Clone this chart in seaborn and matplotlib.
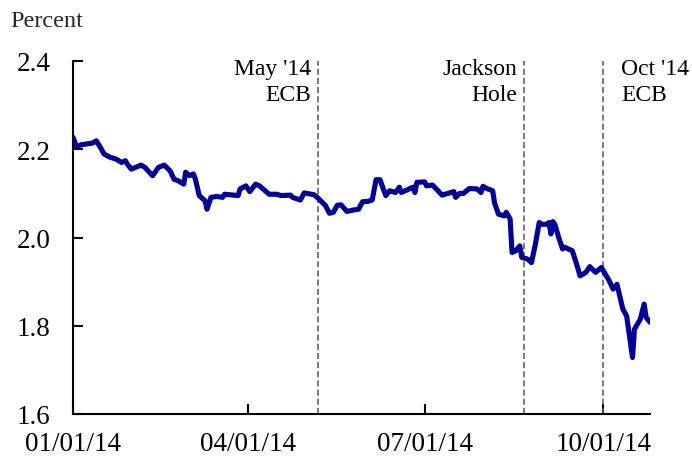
import matplotlib
matplotlib.use("Agg")
import matplotlib.pyplot as plt
import matplotlib.dates as mdates
import seaborn as sns
import pandas as pd

dates = [
    "2014-01-01", "2014-01-03", "2014-01-05", "2014-01-11", "2014-01-13", "2014-01-15",
    "2014-01-17", "2014-01-20", "2014-01-23", "2014-01-26", "2014-01-28", "2014-01-29",
    "2014-01-31", "2014-02-05", "2014-02-07", "2014-02-11", "2014-02-14", "2014-02-17",
    "2014-02-20", "2014-02-22", "2014-02-24", "2014-02-27", "2014-02-28", "2014-03-02",
    "2014-03-04", "2014-03-05", "2014-03-07", "2014-03-10", "2014-03-11", "2014-03-13",
    "2014-03-16", "2014-03-19", "2014-03-20", "2014-03-25", "2014-03-27", "2014-03-28",
    "2014-03-31", "2014-04-02", "2014-04-05", "2014-04-07", "2014-04-12", "2014-04-16",
    "2014-04-18", "2014-04-23", "2014-04-24", "2014-04-28", "2014-04-30", "2014-05-05",
    "2014-05-07", "2014-05-11", "2014-05-13", "2014-05-15", "2014-05-17", "2014-05-19",
    "2014-05-22", "2014-05-25", "2014-05-28", "2014-05-30", "2014-06-02", "2014-06-04",
    "2014-06-06", "2014-06-08", "2014-06-11", "2014-06-13", "2014-06-16", "2014-06-18",
    "2014-06-19", "2014-06-22", "2014-06-25", "2014-06-26", "2014-06-27", "2014-07-01",
    "2014-07-02", "2014-07-05", "2014-07-07", "2014-07-10", "2014-07-13", "2014-07-16",
    "2014-07-17", "2014-07-19", "2014-07-21", "2014-07-24", "2014-07-28", "2014-07-30",
    "2014-07-31", "2014-08-02", "2014-08-05", "2014-08-06", "2014-08-08", "2014-08-11",
    "2014-08-12", "2014-08-14", "2014-08-15", "2014-08-17", "2014-08-19", "2014-08-20",
    "2014-08-23", "2014-08-25", "2014-08-27", "2014-08-29", "2014-08-30", "2014-09-02",
    "2014-09-03", "2014-09-04", "2014-09-05", "2014-09-06", "2014-09-08", "2014-09-10",
    "2014-09-11", "2014-09-15", "2014-09-17", "2014-09-19", "2014-09-22", "2014-09-24",
    "2014-09-27", "2014-09-30", "2014-10-02", "2014-10-04", "2014-10-06", "2014-10-08",
    "2014-10-11", "2014-10-13", "2014-10-16", "2014-10-17", "2014-10-20", "2014-10-22",
    "2014-10-23", "2014-10-25",
]
values = [
    2.227, 2.204, 2.210, 2.214, 2.219, 2.205,
    2.189, 2.182, 2.178, 2.170, 2.174, 2.166,
    2.155, 2.164, 2.159, 2.140, 2.159, 2.164,
    2.151, 2.132, 2.129, 2.121, 2.148, 2.140,
    2.144, 2.132, 2.095, 2.083, 2.064, 2.091,
    2.093, 2.091, 2.098, 2.096, 2.095, 2.110,
    2.117, 2.104, 2.121, 2.117, 2.098, 2.098,
    2.095, 2.096, 2.091, 2.085, 2.101, 2.097,
    2.090, 2.072, 2.055, 2.057, 2.073, 2.074,
    2.059, 2.062, 2.064, 2.081, 2.082, 2.085,
    2.131, 2.131, 2.095, 2.106, 2.102, 2.114,
    2.102, 2.108, 2.114, 2.102, 2.125, 2.126,
    2.117, 2.119, 2.110, 2.096, 2.100, 2.104,
    2.091, 2.100, 2.100, 2.111, 2.110, 2.102,
    2.116, 2.111, 2.106, 2.078, 2.053, 2.049,
    2.057, 2.042, 1.966, 1.970, 1.981, 1.955,
    1.951, 1.943, 1.985, 2.034, 2.030, 2.030,
    2.034, 2.008, 2.036, 2.030, 2.000, 1.974,
    1.978, 1.970, 1.943, 1.913, 1.921, 1.934,
    1.921, 1.932, 1.917, 1.902, 1.883, 1.894,
    1.838, 1.822, 1.728, 1.792, 1.815, 1.849,
    1.819, 1.808,
]

event_dates = ["2014-05-07", "2014-08-21", "2014-10-01"]
event_labels = ["May '14\nECB", "Jackson\nHole", "Oct '14\nECB"]

x_ticks = ["2014-01-01", "2014-04-01", "2014-07-01", "2014-10-01"]
y_ticks = [1.6, 1.8, 2.0, 2.2, 2.4]
y_tick_labels = ["1.6", "1.8", "2.0", "2.2", "2.4"]

sns.set_theme(style="ticks")
plt.rcParams['font.family'] = ['Liberation Serif', 'DejaVu Serif']

W, H = 692, 460
fig = plt.figure(figsize=(W / 100, H / 100), dpi=100)
ax = fig.add_axes([73 / W, 45 / H, 577 / W, 353 / H])

df = pd.DataFrame({"date": pd.to_datetime(dates), "value": values})
sns.lineplot(data=df, x="date", y="value", ax=ax, color="#000096", linewidth=3.7)

ax.set_xlim(pd.Timestamp("2014-01-01"), pd.Timestamp("2014-10-25"))
ax.set_ylim(1.6, 2.4)
ax.set_yticks(y_ticks)
ax.set_yticklabels(y_tick_labels)
ax.set_xticks(pd.to_datetime(x_ticks))
ax.xaxis.set_major_formatter(mdates.DateFormatter("%m/%d/%y"))
ax.set_xlabel("")
ax.set_ylabel("")

for s in ["top", "right"]:
    ax.spines[s].set_visible(False)
for s in ["left", "bottom"]:
    ax.spines[s].set_linewidth(1.5)
    ax.spines[s].set_color("black")

ax.tick_params(axis="both", direction="in", length=7, width=1.5, colors="black",
               labelsize=19.5)
ax.tick_params(axis="y", pad=16)
ax.tick_params(axis="x", pad=12)

offsets = [(-5, 2, "right"), (-5, 2, "right"), (13, 2, "left")]
for d, lab, (dx, dy, ha) in zip(event_dates, event_labels, offsets):
    dt = pd.Timestamp(d)
    ax.axvline(dt, color="#555555", linestyle=(0, (4, 2)), linewidth=1.1, zorder=1)
    ax.annotate(lab, xy=(dt, 1.0), xycoords=("data", "axes fraction"),
                xytext=(dx, dy), textcoords="offset points",
                ha=ha, va="top", fontsize=17, linespacing=1.3, color="black")

fig.text(10 / W, 1 - 27 / H, "Percent", fontsize=17.5, va="baseline", ha="left")

fig.savefig("out.png", dpi=100)
